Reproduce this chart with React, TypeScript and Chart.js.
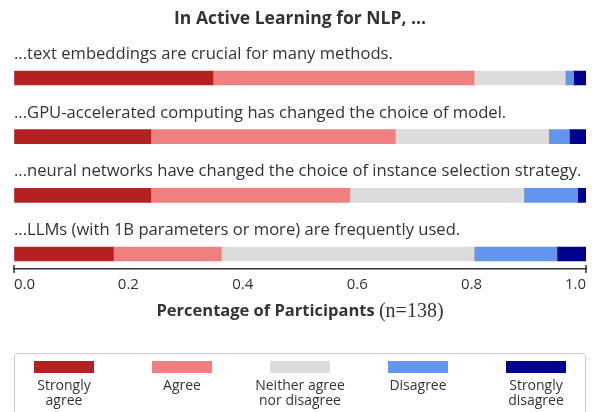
import React, { useEffect, useRef } from "react";
import { Chart, registerables } from "chart.js";

Chart.register(...registerables);

// ---------- data ----------
const chartTitle = "In Active Learning for NLP, ...";
const statements = [
  "...text embeddings are crucial for many methods.",
  "...GPU-accelerated computing has changed the choice of model.",
  "...neural networks have changed the choice of instance selection strategy.",
  "...LLMs (with 1B parameters or more) are frequently used.",
];
const participants = 138;
const stronglyAgree = [48, 33, 33, 24];
const agree = [63, 59, 48, 26];
const neither = [22, 37, 42, 61];
const disagree = [2, 5, 13, 20];
const stronglyDisagree = [3, 4, 2, 7];
const seriesLabels = [
  ["Strongly", "agree"],
  ["Agree"],
  ["Neither agree", "nor disagree"],
  ["Disagree"],
  ["Strongly", "disagree"],
];
const seriesColors = ["#B22222", "#F08080", "#DCDCDC", "#6495ED", "#00008B"];
const xTitleBold = "Percentage of Participants";
const xTitleMath = "(n=138)";

// ---------- styles ----------
const TEXT = "#333333";
const AXIS = "#333333";
const FONT = "'Open Sans'";

const seriesCounts = [stronglyAgree, agree, neither, disagree, stronglyDisagree];

const decorPlugin = {
  id: "decor",
  afterDraw(chart: any) {
    const ctx = chart.ctx as CanvasRenderingContext2D;
    const area = chart.chartArea;
    const xs = chart.scales.x;
    ctx.save();

    // axis end caps
    ctx.strokeStyle = AXIS;
    ctx.lineWidth = 1.5;
    [0, 1].forEach((v) => {
      const px = xs.getPixelForValue(v);
      ctx.beginPath();
      ctx.moveTo(px, area.bottom - 4);
      ctx.lineTo(px, area.bottom + 4);
      ctx.stroke();
    });

    // statement labels above bars
    const meta = chart.getDatasetMeta(0);
    ctx.font = `16.6px ${FONT}`;
    ctx.fillStyle = TEXT;
    ctx.textAlign = "left";
    ctx.textBaseline = "alphabetic";
    meta.data.forEach((el: any, i: number) => {
      const p = el.getProps(["y", "height"], true);
      ctx.fillText(chart.data.labels[i], area.left, p.y - p.height / 2 - 12);
    });

    // x axis title (bold sans + serif math part)
    const cx = (area.left + area.right) / 2;
    const ty = area.bottom + 42;
    ctx.font = `bold 16.5px ${FONT}`;
    const w1 = ctx.measureText(xTitleBold + " ").width;
    ctx.font = `20px 'Liberation Serif'`;
    const w2 = ctx.measureText(xTitleMath).width;
    const x0 = cx - (w1 + w2) / 2;
    ctx.textBaseline = "middle";
    ctx.font = `bold 16.5px ${FONT}`;
    ctx.fillText(xTitleBold, x0, ty);
    ctx.font = `20px 'Liberation Serif'`;
    ctx.fillText(xTitleMath, x0 + w1, ty + 1);

    // legend box
    const boxTop = 353.5;
    ctx.beginPath();
    ctx.strokeStyle = "#cccccc";
    ctx.lineWidth = 1;
    (ctx as any).roundRect(area.left + 0.5, boxTop, area.right - area.left - 1, 80, 3);
    ctx.fillStyle = "#ffffff";
    ctx.fill();
    ctx.stroke();

    const n = chart.data.datasets.length;
    ctx.font = `14px ${FONT}`;
    ctx.textAlign = "center";
    ctx.textBaseline = "alphabetic";
    chart.data.datasets.forEach((ds: any, i: number) => {
      const c = cx + (i - (n - 1) / 2) * 118;
      ctx.fillStyle = ds.backgroundColor;
      ctx.fillRect(c - 30, 361, 60, 12);
      ctx.fillStyle = TEXT;
      (ds.legendLines as string[]).forEach((line, j) => {
        ctx.fillText(line, c, 390 + j * 15);
      });
    });

    ctx.restore();
  },
};

export default function App() {
  const ref = useRef<HTMLCanvasElement>(null);

  useEffect(() => {
    if (!ref.current) return;
    const chart = new Chart(ref.current, {
      type: "bar",
      data: {
        labels: statements,
        datasets: seriesCounts.map((counts, s) => ({
          label: seriesLabels[s].join(" "),
          legendLines: seriesLabels[s],
          data: counts.map((c, i) => ({ x: c / participants, y: i })),
          backgroundColor: seriesColors[s],
          borderWidth: 0,
          barThickness: 14,
        })) as any,
      },
      options: {
        indexAxis: "y",
        responsive: false,
        animation: false,
        devicePixelRatio: 1,
        layout: { padding: { left: 14, right: 6, top: 0, bottom: 111 } },
        plugins: {
          legend: { display: false },
          tooltip: { enabled: false },
          title: {
            display: true,
            text: chartTitle,
            color: TEXT,
            font: { family: FONT, size: 17.5, weight: "bold", lineHeight: 1.2 },
            padding: { top: 9, bottom: 15.7 },
          },
        },
        scales: {
          x: {
            type: "linear",
            stacked: true,
            min: 0,
            max: 1,
            grid: { drawOnChartArea: false, drawTicks: false },
            border: { display: true, color: AXIS, width: 1.5 },
            ticks: {
              stepSize: 0.2,
              padding: 7,
              align: "inner",
              color: TEXT,
              font: { family: FONT, size: 15 },
              callback: (v: any) => Number(v).toFixed(1),
            },
            afterFit: (scale: any) => {
              scale.paddingLeft = 0;
              scale.paddingRight = 0;
            },
          },
          y: {
            type: "linear",
            stacked: true,
            reverse: true,
            offset: false,
            min: -0.55,
            max: 3.2557,
            display: false,
          },
        },
      } as any,
      plugins: [decorPlugin],
    });
    return () => chart.destroy();
  }, []);

  return (
    <div style={{ position: "absolute", left: 0, top: 0, width: 592, height: 412 }}>
      <canvas ref={ref} width={592} height={412} style={{ display: "block" }} />
    </div>
  );
}
